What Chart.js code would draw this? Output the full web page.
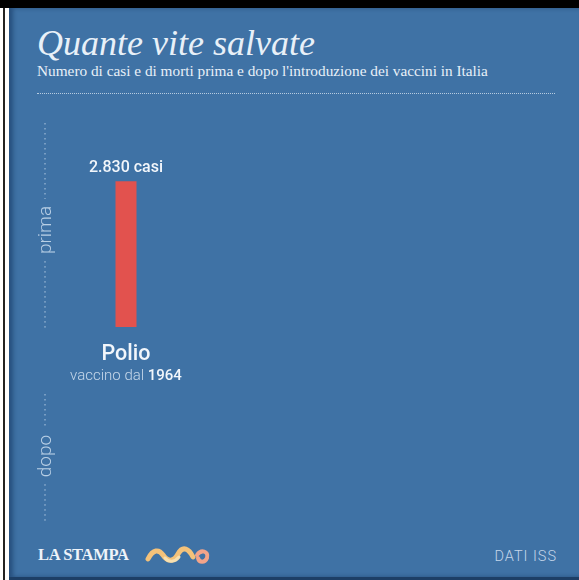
<!DOCTYPE html>
<html>
<head>
<meta charset="utf-8">
<script src="https://cdn.jsdelivr.net/npm/chart.js@4.4.0/dist/chart.umd.min.js"></script>
<style>
body { margin: 0; width: 579px; height: 580px; background: #fff; position: relative; overflow: hidden; font-family: Roboto, sans-serif; }
#topbar { position: absolute; left: 0; top: 0; width: 579px; height: 8px; background: #000; }
#leftline { position: absolute; left: 3px; top: 8px; width: 2px; height: 572px; background: #222; }
#panel { position: absolute; left: 9px; top: 8px; width: 570px; height: 569px; background: #3f72a5; box-shadow: inset 4px 0 4px rgba(10,40,80,0.45); }
#bottomline { position: absolute; left: 9px; top: 577px; width: 570px; height: 3px; background: #1d3f66; }
#title { position: absolute; left: 37px; top: 25px; margin: 0; font: italic 36px/1 "Liberation Serif", serif; color: #e8f0f8; white-space: nowrap; }
#subtitle { position: absolute; left: 37px; top: 63px; font: 15.3px/1 "Liberation Serif", serif; color: #e8f0f8; white-space: nowrap; }
#rule { position: absolute; left: 37px; top: 93px; width: 518px; border-top: 1px dotted rgba(235,242,250,0.7); }
#logo { position: absolute; left: 38px; top: 547px; font: bold 16.5px/1 "Liberation Serif", serif; color: #eef3f9; letter-spacing: -0.3px; }
#squiggle { position: absolute; left: 145px; top: 543px; }
#source { position: absolute; right: 22px; top: 550px; font: 300 14.5px/1 Roboto, sans-serif; color: #c4d6ea; letter-spacing: 1px; }
#wrap { position: absolute; left: 9px; top: 100px; width: 570px; height: 440px; }
</style>
</head>
<body>
<div id="topbar"></div>
<div id="leftline"></div>
<div id="panel"></div>
<div id="bottomline"></div>
<h1 id="title">Quante vite salvate</h1>
<div id="subtitle">Numero di casi e di morti prima e dopo l'introduzione dei vaccini in Italia</div>
<div id="rule"></div>
<div id="wrap"><canvas id="chart" width="570" height="440"></canvas></div>
<div id="logo">LA STAMPA</div>
<svg id="squiggle" width="72" height="26" viewBox="0 0 72 26">
  <path d="M3 16 C8 6, 14 6, 18 12 S28 20, 33 11 S44 6, 48 14" stroke="#f4c27a" stroke-width="5" fill="none" stroke-linecap="round"/>
  <path d="M52 12 C56 6, 64 8, 62 15 C60 20, 54 20, 53 15" stroke="#f2a48a" stroke-width="4" fill="none" stroke-linecap="round"/>
  <path d="M20 15 C24 20, 30 19, 34 14" stroke="#f7e0b0" stroke-width="3" fill="none" stroke-linecap="round"/>
</svg>
<div id="source">DATI ISS</div>

<script>
const diseases = ['Polio'];
const vaccineYears = ['1964'];
const casesBefore = [2830];
const casesAfter = [0];
const beforeLabels = ['2.830 casi'];
const sectionNames = ['prima', 'dopo'];

const barColor = '#e2524e';

// dotted axis lines with the rotated section names, plus value and name labels
const labelsPlugin = {
    id: 'labels',
    afterDatasetsDraw(chart) {
        const ctx = chart.ctx;
        const axisX = chart.chartArea.left;
        const sections = [chart.scales.yPrima, chart.scales.yDopo];
        ctx.save();
        sections.forEach((scale, i) => {
            const top = scale.top + 2;
            const bottom = scale.bottom + 2;
            const mid = (scale.top + scale.bottom) / 2 + (i === 0 ? 6 : 0);
            ctx.font = '300 19px Roboto';
            const half = ctx.measureText(sectionNames[i]).width / 2 + 7;
            ctx.strokeStyle = 'rgba(215,230,245,0.75)';
            ctx.lineWidth = 1;
            ctx.setLineDash([1.5, 3.5]);
            ctx.beginPath();
            ctx.moveTo(axisX, top);
            ctx.lineTo(axisX, mid - half);
            ctx.moveTo(axisX, mid + half);
            ctx.lineTo(axisX, bottom);
            ctx.stroke();
            ctx.setLineDash([]);
            ctx.save();
            ctx.translate(axisX + 1, mid);
            ctx.rotate(-Math.PI / 2);
            ctx.fillStyle = 'rgba(215,230,245,0.8)';
            ctx.textAlign = 'center';
            ctx.textBaseline = 'middle';
            ctx.fillText(sectionNames[i], 0, 0);
            ctx.restore();
        });

        const meta = chart.getDatasetMeta(0);
        const base = chart.scales.yPrima.getPixelForValue(0);
        meta.data.forEach((bar, i) => {
            const x = bar.x;
            ctx.textAlign = 'center';
            ctx.textBaseline = 'alphabetic';
            ctx.fillStyle = '#f2f6fb';
            ctx.font = '500 16px Roboto';
            ctx.fillText(beforeLabels[i], x, bar.y - 9);
            ctx.font = '500 21.5px Roboto';
            ctx.fillText(diseases[i], x, base + 33);
            const pre = 'vaccino dal ';
            ctx.font = '300 15px Roboto';
            const w1 = ctx.measureText(pre).width;
            ctx.font = '500 15px Roboto';
            const w2 = ctx.measureText(vaccineYears[i]).width;
            const start = x - (w1 + w2) / 2;
            ctx.textAlign = 'left';
            ctx.font = '300 15px Roboto';
            ctx.fillStyle = 'rgba(220,232,245,0.85)';
            ctx.fillText(pre, start, base + 53);
            ctx.font = '500 15px Roboto';
            ctx.fillStyle = '#f2f6fb';
            ctx.fillText(vaccineYears[i], start + w1, base + 53);
        });
        ctx.restore();
    }
};

new Chart(document.getElementById('chart'), {
    type: 'bar',
    data: {
        labels: diseases,
        datasets: [{
            label: 'prima',
            data: casesBefore,
            yAxisID: 'yPrima',
            backgroundColor: barColor,
            barThickness: 21,
            inflateAmount: 0
        }, {
            label: 'dopo',
            data: casesAfter,
            yAxisID: 'yDopo',
            backgroundColor: barColor,
            barThickness: 21,
            inflateAmount: 0
        }]
    },
    options: {
        responsive: false,
        animation: false,
        devicePixelRatio: 1,
        grouped: false,
        layout: { padding: { left: 36, right: 372, top: 21, bottom: 20 } },
        plugins: { legend: { display: false }, tooltip: { enabled: false } },
        scales: {
            x: { display: false },
            // first scale of the stack goes at the bottom
            yDopo: { display: false, position: 'left', stack: 'v', stackWeight: 128, min: 0, max: 4000 },
            ySpacer: { display: false, position: 'left', stack: 'v', stackWeight: 65, min: 0, max: 1 },
            yPrima: { display: false, position: 'left', stack: 'v', stackWeight: 206, min: 0, max: 4000 }
        }
    },
    plugins: [labelsPlugin]
});
</script>
</body>
</html>
